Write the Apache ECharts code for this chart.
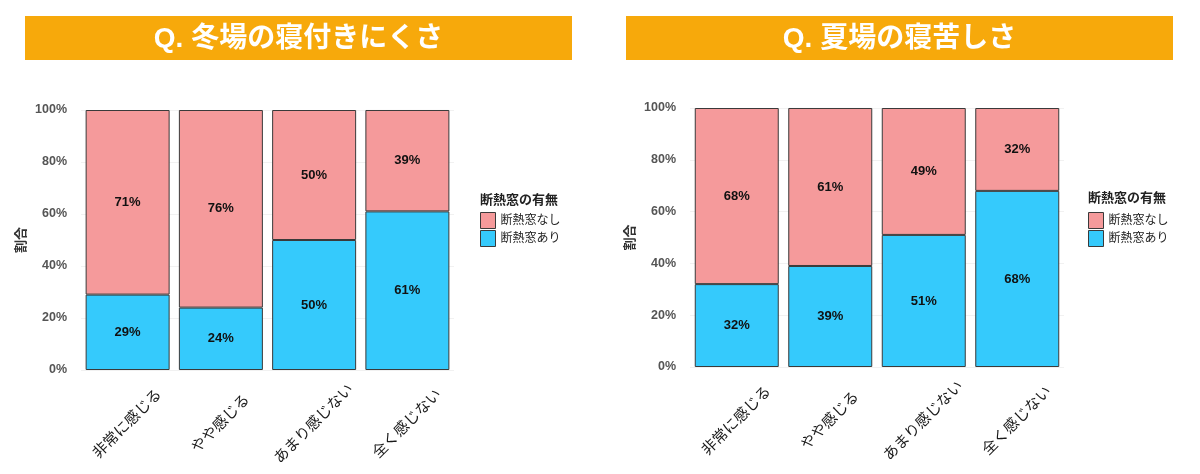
<!DOCTYPE html>
<html>
<head>
    <meta charset="utf-8">
    <title>断熱窓</title>
    <script src="https://cdn.jsdelivr.net/npm/echarts@6/dist/echarts.min.js"></script>
    <style>
        html, body { margin: 0; padding: 0; background: #fff; }
    </style>
</head>
<body>
    <div id="main" style="width: 1200px;height:474px;"></div>
    <script type="text/javascript">

    var categories = ['非常に感じる', 'やや感じる', 'あまり感じない', '全く感じない'];
    // 冬場の寝付きにくさ
    var winterNone = [71, 76, 50, 39];
    var winterWith = [29, 24, 50, 61];
    // 夏場の寝苦しさ
    var summerNone = [68, 61, 49, 32];
    var summerWith = [32, 39, 51, 68];
    var seriesNames = ['断熱窓なし', '断熱窓あり'];
    var titles = ['Q. 冬場の寝付きにくさ', 'Q. 夏場の寝苦しさ'];

    var FONT = "'Liberation Sans', 'Noto Sans CJK JP', sans-serif";
    var PINK = '#F59A9B';
    var BLUE = '#35CAFC';
    var EDGE = '#3a3a3a';

    var myChart = echarts.init(document.getElementById('main'));

    function makeAxes(idx, yName) {
        var x = {
            type: 'category',
            gridIndex: idx,
            data: categories,
            axisLine: {show: false},
            axisTick: {show: false},
            splitLine: {show: false},
            axisLabel: {
                rotate: 45,
                align: 'center',
                verticalAlign: 'middle',
                margin: 54,
                interval: 0,
                fontSize: 15,
                color: '#1a1a1a',
                fontFamily: FONT
            }
        };
        var y = {
            type: 'value',
            gridIndex: idx,
            min: 0,
            max: 100,
            interval: 20,
            name: yName,
            nameLocation: 'middle',
            nameRotate: 90,
            nameGap: 53,
            nameTextStyle: {fontSize: 13, fontWeight: 'bold', color: '#333', fontFamily: FONT},
            axisLine: {show: false},
            axisTick: {show: false},
            splitLine: {show: true, lineStyle: {color: '#F1F1F1', width: 1}},
            axisLabel: {
                formatter: '{value}%',
                margin: 14,
                fontSize: 12.5,
                fontWeight: 'bold',
                color: '#555',
                fontFamily: FONT
            }
        };
        return [x, y];
    }

    function makeSeries(idx, none, withWin) {
        var lab = {
            show: true,
            position: 'inside',
            formatter: '{c}%',
            fontSize: 13,
            fontWeight: 'bold',
            color: '#111',
            fontFamily: FONT
        };
        return [
            {
                name: seriesNames[1],
                type: 'bar',
                stack: 's' + idx,
                xAxisIndex: idx,
                yAxisIndex: idx,
                barWidth: 84,
                data: withWin,
                itemStyle: {color: BLUE, borderColor: EDGE, borderWidth: 1},
                label: lab
            },
            {
                name: seriesNames[0],
                type: 'bar',
                stack: 's' + idx,
                xAxisIndex: idx,
                yAxisIndex: idx,
                barWidth: 84,
                data: none,
                itemStyle: {color: PINK, borderColor: EDGE, borderWidth: 1},
                label: lab
            }
        ];
    }

    function makeLegend(left) {
        return {
            left: left,
            top: 212,
            orient: 'vertical',
            icon: 'rect',
            itemWidth: 15,
            itemHeight: 16,
            itemGap: 1,
            padding: 0,
            data: seriesNames,
            itemStyle: {borderColor: EDGE, borderWidth: 1},
            textStyle: {fontSize: 12, color: '#222', fontFamily: FONT}
        };
    }

    function titleBar(x, text) {
        return {
            type: 'group',
            left: x,
            top: 16,
            children: [
                {type: 'rect', shape: {x: 0, y: 0, width: 547, height: 44}, style: {fill: '#F7A90B'}},
                {type: 'text', x: 273.5, y: 23, style: {
                    text: text, fill: '#fff', fontSize: 28, fontWeight: 'bold',
                    fontFamily: FONT, align: 'center', verticalAlign: 'middle'
                }}
            ]
        };
    }

    var ax0 = makeAxes(0, '割合');
    var ax1 = makeAxes(1, '割合');

option = {
    backgroundColor: '#fff',
    animation: false,
    title: [
        {text: '断熱窓の有無', left: 480, top: 194, padding: 0,
         textStyle: {fontSize: 13, fontWeight: 'bold', color: '#222', fontFamily: FONT}},
        {text: '断熱窓の有無', left: 1088, top: 192, padding: 0,
         textStyle: {fontSize: 13, fontWeight: 'bold', color: '#222', fontFamily: FONT}}
    ],
    legend: [makeLegend(480), makeLegend(1088)],
    grid: [
        {left: 81, top: 110, width: 373, height: 260},
        {left: 690, top: 108, width: 374, height: 259}
    ],
    xAxis: [ax0[0], ax1[0]],
    yAxis: [ax0[1], ax1[1]],
    series: makeSeries(0, winterNone, winterWith).concat(makeSeries(1, summerNone, summerWith)),
    graphic: [titleBar(25, titles[0]), titleBar(626, titles[1])]
};
    myChart.setOption(option);

    </script>
</body>
</html>
